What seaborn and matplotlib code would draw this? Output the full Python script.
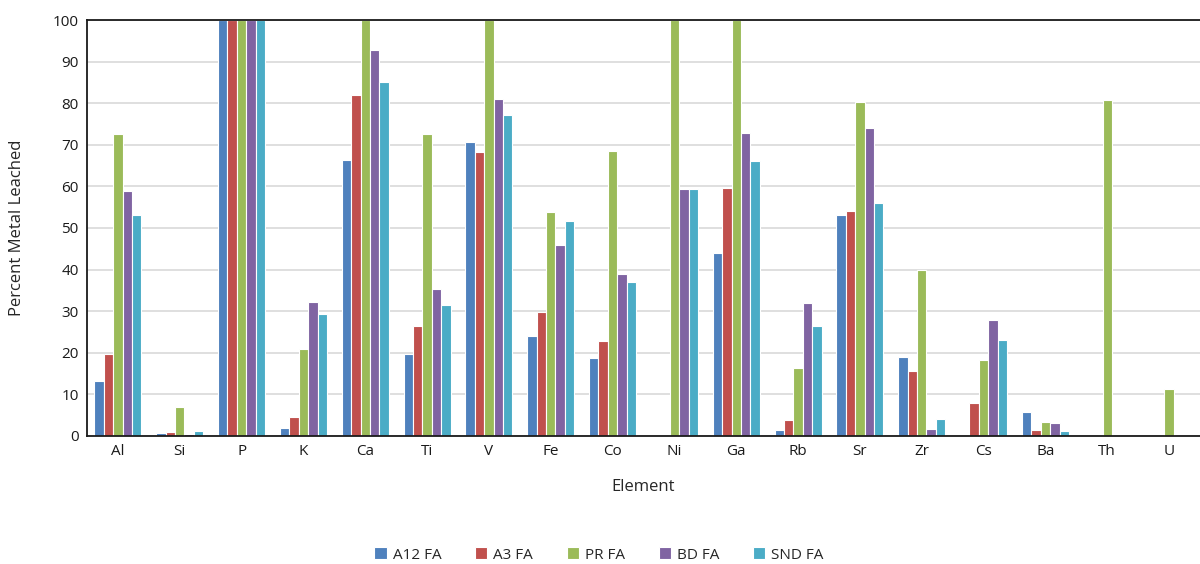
import pandas as pd
import matplotlib.pyplot as plt
import seaborn as sns

elements = ['Al', 'Si', 'P', 'K', 'Ca', 'Ti', 'V', 'Fe', 'Co', 'Ni',
            'Ga', 'Rb', 'Sr', 'Zr', 'Cs', 'Ba', 'Th', 'U']
a12_fa = [13.2, 0.8, 100, 2.0, 66.3, 19.7, 70.6, 24.0, 18.8, 0,
          44.0, 1.4, 53.1, 19.0, 0, 5.8, 0, 0]
a3_fa = [19.8, 1.0, 100, 4.5, 81.9, 26.5, 68.3, 29.7, 22.9, 0,
         59.6, 3.8, 54.1, 15.7, 7.9, 1.4, 0, 0]
pr_fa = [72.7, 6.9, 100, 20.9, 100, 72.7, 100, 53.8, 68.6, 100,
         100, 16.4, 80.3, 40.0, 18.3, 3.3, 80.7, 11.3]
bd_fa = [58.9, 0.5, 100, 32.1, 92.7, 35.4, 80.9, 46.0, 39.0, 59.3,
         72.8, 32.0, 74.1, 1.6, 27.8, 3.0, 0, 0]
snd_fa = [53.1, 1.2, 100, 29.3, 85.2, 31.4, 77.2, 51.6, 37.1, 59.3,
          66.0, 26.5, 56.0, 4.0, 23.1, 1.3, 0, 0]

series = {'A12 FA': a12_fa, 'A3 FA': a3_fa, 'PR FA': pr_fa,
          'BD FA': bd_fa, 'SND FA': snd_fa}
colors = ['#4F81BD', '#C0504D', '#9BBB59', '#8064A2', '#4BACC6']

# long format for seaborn
df = pd.DataFrame([
    {'Element': el, 'Sample': name, 'Leached': v}
    for name, vals in series.items()
    for el, v in zip(elements, vals)
])

sns.set_style('white')
plt.rcParams['font.family'] = ['Open Sans', 'DejaVu Sans']

fig = plt.figure(figsize=(12, 5.64), dpi=100)
ax = fig.add_axes([0.0725, 0.227, 0.9275, 0.7375])

sns.barplot(data=df, x='Element', y='Leached', hue='Sample',
            order=elements, hue_order=list(series.keys()),
            palette=colors, saturation=1, width=0.76, edgecolor='white',
            linewidth=0.8, errorbar=None, ax=ax)

ax.set_ylim(0, 100)
ax.set_xlim(-0.5, len(elements) - 0.5)
ax.set_yticks(range(0, 101, 10))
ax.yaxis.grid(True, color='#d9d9d9', linewidth=1.2)
ax.set_axisbelow(True)

for s in ['left', 'bottom', 'top']:
    ax.spines[s].set_color('#1a1a1a')
    ax.spines[s].set_linewidth(1.3)
ax.spines['right'].set_visible(False)

ax.tick_params(axis='both', length=0, labelsize=11, colors='#1a1a1a', pad=6)
ax.set_xlabel('Element', fontsize=12, labelpad=14)
ax.set_ylabel('Percent Metal Leached', fontsize=12, labelpad=20)

ax.legend(loc='upper center', bbox_to_anchor=(0.46, -0.235), ncol=5,
          frameon=False, fontsize=11, handlelength=0.8, handleheight=0.8,
          columnspacing=2.2, handletextpad=0.4)

plt.savefig('out.png', dpi=100)
